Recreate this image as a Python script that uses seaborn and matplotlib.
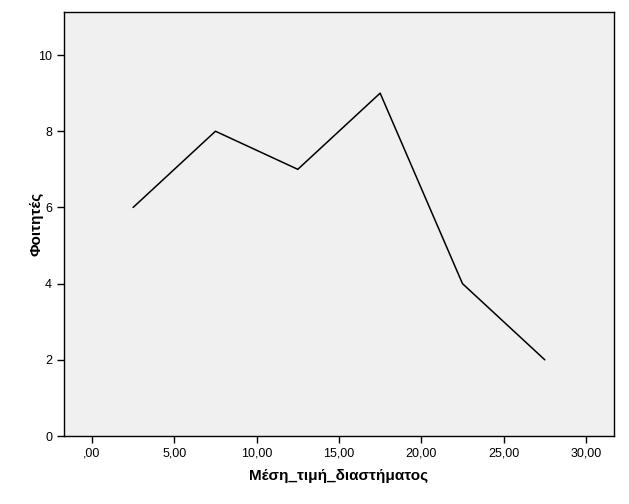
import numpy as np
import pandas as pd
import matplotlib
matplotlib.use("Agg")
import matplotlib.pyplot as plt
import seaborn as sns
from matplotlib.ticker import FuncFormatter

### values

midpoints = [2.5, 7.5, 12.5, 17.5, 22.5, 27.5]
students = [6, 8, 7, 9, 4, 2]
x_ticks = [0, 5, 10, 15, 20, 25, 30]
y_ticks = [0, 2, 4, 6, 8, 10]

df = pd.DataFrame({"Μέση_τιμή_διαστήματος": midpoints, "Φοιτητές": students})

sns.set_style("white")
plt.rcParams["font.family"] = ["Liberation Sans", "DejaVu Sans"]

fig = plt.figure(figsize=(6.29, 5.04), dpi=100)
ax = fig.add_axes([0.1017, 0.1349, 0.8744, 0.8413])
ax.set_facecolor("#f0f0f0")

sns.lineplot(data=df, x="Μέση_τιμή_διαστήματος", y="Φοιτητές",
             color="black", linewidth=1.1, ax=ax)

ax.set_xlim(-1.7, 31.7)
ax.set_ylim(0, 11.13)
ax.set_xticks(x_ticks)
ax.set_yticks(y_ticks)

## SPSS style: comma as decimal separator, ",00" for zero
def fmt_x(v, pos):
    s = f"{v:.2f}".replace(".", ",")
    return s[1:] if s.startswith("0,") else s

ax.xaxis.set_major_formatter(FuncFormatter(fmt_x))
ax.tick_params(axis="both", direction="out", length=5, width=1,
               labelsize=9, colors="black", bottom=True, left=True)
ax.tick_params(axis="x", pad=3)

for sp in ax.spines.values():
    sp.set_visible(True)
    sp.set_color("black")
    sp.set_linewidth(1)

ax.set_xlabel("Μέση_τιμή_διαστήματος", fontsize=11, fontweight="bold",
              color="black", labelpad=7)
ax.set_ylabel("Φοιτητές", fontsize=11, fontweight="bold",
              color="black", labelpad=-4)

fig.savefig("out.png", dpi=100, facecolor="white")
